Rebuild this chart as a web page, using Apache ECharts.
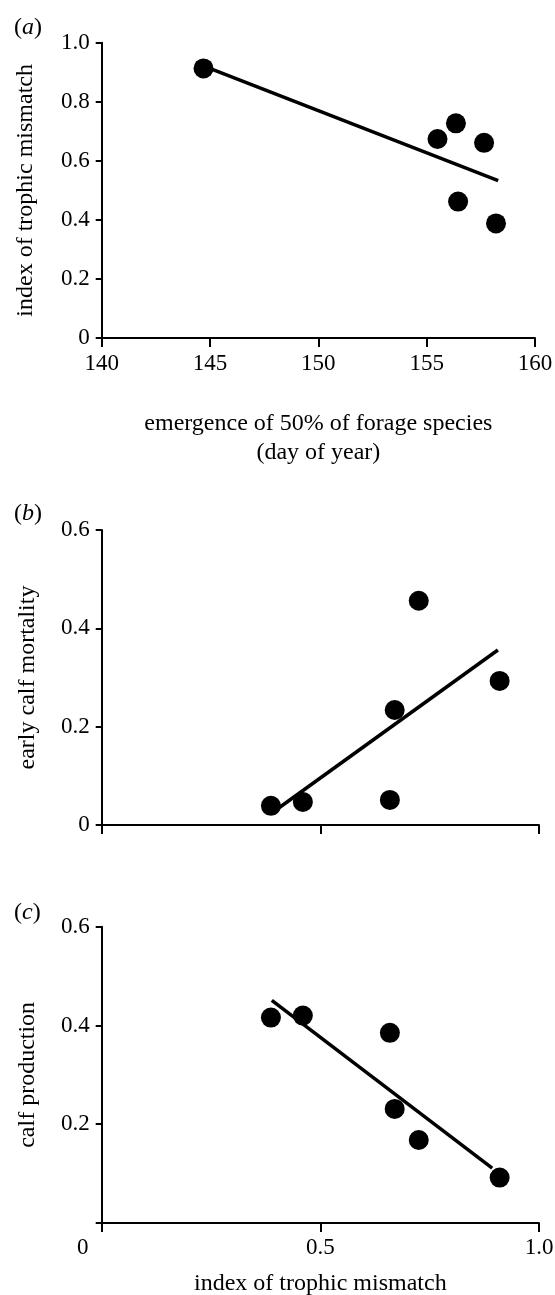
<!DOCTYPE html>
<html>
<head>
<meta charset="utf-8">
<script src="https://cdn.jsdelivr.net/npm/echarts@6/dist/echarts.min.js"></script>
<style>
html,body{margin:0;padding:0;background:#fff;}
#chart{width:555px;height:1295px;}
</style>
</head>
<body>
<div id="chart"></div>
<script>
// ---- data ----
// panel (a): emergence day vs index of trophic mismatch
var forageDay = [144.7, 155.5, 156.35, 157.65, 156.45, 158.2];
var mismatchA = [0.913, 0.674, 0.727, 0.661, 0.462, 0.388];
var fitA_x = [144.75, 158.3];
var fitA_y = [0.92, 0.533];
// panels (b),(c): index of trophic mismatch on x
var mismatch = [0.387, 0.46, 0.659, 0.67, 0.725, 0.91];
var mortality = [0.039, 0.047, 0.051, 0.234, 0.456, 0.293];
var production = [0.416, 0.420, 0.385, 0.231, 0.168, 0.092];
var fitB_x = [0.404, 0.906];
var fitB_y = [0.034, 0.356];
var fitC_x = [0.389, 0.893];
var fitC_y = [0.451, 0.111];
// tick labels
var ticksA_x = ['140', '145', '150', '155', '160'];
var ticksA_y = ['0', '0.2', '0.4', '0.6', '0.8', '1.0'];
var ticksBC_y = ['0', '0.2', '0.4', '0.6'];
var ticksBC_x = ['0', '0.5', '1.0'];
var panelLetters = ['a', 'b', 'c'];

function pairs(xs, ys) {
  return xs.map(function (x, i) { return [x, ys[i]]; });
}

var FONT = 'Liberation Serif';
var lab = { color: '#000', fontFamily: FONT, fontSize: 23 };

function axisBase() {
  return {
    type: 'value',
    axisLine: { show: true, onZero: false, lineStyle: { color: '#000', width: 2 } },
    axisTick: { show: true, inside: false, lineStyle: { color: '#000', width: 2 } },
    splitLine: { show: false },
    nameTextStyle: { color: '#000', fontFamily: FONT, fontSize: 24, lineHeight: 29 },
    nameLocation: 'middle'
  };
}

function mk(o, extra) { for (var k in extra) o[k] = extra[k]; return o; }

var xA = mk(axisBase(), {
  gridIndex: 0, min: 140, max: 160, interval: 5,
  name: 'emergence of 50% of forage species\n(day of year)', nameGap: 71,
  axisLabel: mk(mk({}, lab), { margin: 14, formatter: function (v, i) { return ticksA_x[i]; } })
});
xA.axisTick.length = 9;
var yA = mk(axisBase(), {
  gridIndex: 0, min: 0, max: 1, interval: 0.2,
  name: 'index of trophic mismatch', nameGap: 61,
  axisLabel: mk(mk({}, lab), { margin: 12, formatter: function (v, i) { return ticksA_y[i]; } })
});
yA.axisTick.length = 6;

var xB = mk(axisBase(), {
  gridIndex: 1, min: 0, max: 1, interval: 0.5,
  axisLabel: { show: false }
});
xB.axisTick.length = 9;
var yB = mk(axisBase(), {
  gridIndex: 1, min: 0, max: 0.6, interval: 0.2,
  name: 'early calf mortality', nameGap: 59,
  axisLabel: mk(mk({}, lab), { margin: 12, formatter: function (v, i) { return ticksBC_y[i]; } })
});
yB.axisTick.length = 6;

var xC = mk(axisBase(), {
  gridIndex: 2, min: 0, max: 1, interval: 0.5,
  name: 'index of trophic mismatch', nameGap: 46,
  axisLabel: mk(mk({}, lab), {
    margin: 13,
    formatter: function (v, i) { return i === 0 ? '{z|' + ticksBC_x[i] + '}' : ticksBC_x[i]; },
    rich: { z: { color: '#000', fontFamily: FONT, fontSize: 23, padding: [0, 38, 0, 0] } }
  })
});
xC.axisTick.length = 9;
var yC = mk(axisBase(), {
  gridIndex: 2, min: 0, max: 0.6, interval: 0.2,
  name: 'calf production', nameGap: 59,
  axisLabel: mk(mk({}, lab), { margin: 12, formatter: function (v, i) { return i === 0 ? '' : ticksBC_y[i]; } })
});
yC.axisTick.length = 6;

function scat(xi, data) {
  return {
    type: 'scatter', xAxisIndex: xi, yAxisIndex: xi, data: data,
    symbol: 'circle', symbolSize: 20, itemStyle: { color: '#000', opacity: 1 }, z: 3, silent: true
  };
}
function fit(xi, data) {
  return {
    type: 'line', xAxisIndex: xi, yAxisIndex: xi, data: data, symbol: 'none',
    lineStyle: { color: '#000', width: 3.5, opacity: 1 }, z: 2, silent: true, animation: false
  };
}

var labelTops = [11, 497, 896];
var option = {
  animation: false,
  backgroundColor: '#fff',
  title: panelLetters.map(function (l, i) {
    return {
      text: '{p|(}{i|' + l + '}{p|)}', left: 9, top: labelTops[i],
      textStyle: {
        fontWeight: 'normal',
        rich: {
          p: { fontFamily: FONT, fontSize: 24, color: '#000', fontWeight: 'normal' },
          i: { fontFamily: FONT, fontSize: 24, color: '#000', fontStyle: 'italic', fontWeight: 'normal' }
        }
      }
    };
  }),
  grid: [
    { left: 101.7, top: 42.7, width: 433.3, height: 295.3, containLabel: false, outerBoundsMode: 'none' },
    { left: 101.7, top: 530, width: 437.3, height: 295, containLabel: false, outerBoundsMode: 'none' },
    { left: 101.7, top: 926.7, width: 437.3, height: 296.3, containLabel: false, outerBoundsMode: 'none' }
  ],
  xAxis: [xA, xB, xC],
  yAxis: [yA, yB, yC],
  series: [
    fit(0, pairs(fitA_x, fitA_y)), scat(0, pairs(forageDay, mismatchA)),
    fit(1, pairs(fitB_x, fitB_y)), scat(1, pairs(mismatch, mortality)),
    fit(2, pairs(fitC_x, fitC_y)), scat(2, pairs(mismatch, production))
  ]
};
var chart = echarts.init(document.getElementById('chart'), null, { renderer: 'canvas' });
chart.setOption(option);
</script>
</body>
</html>
